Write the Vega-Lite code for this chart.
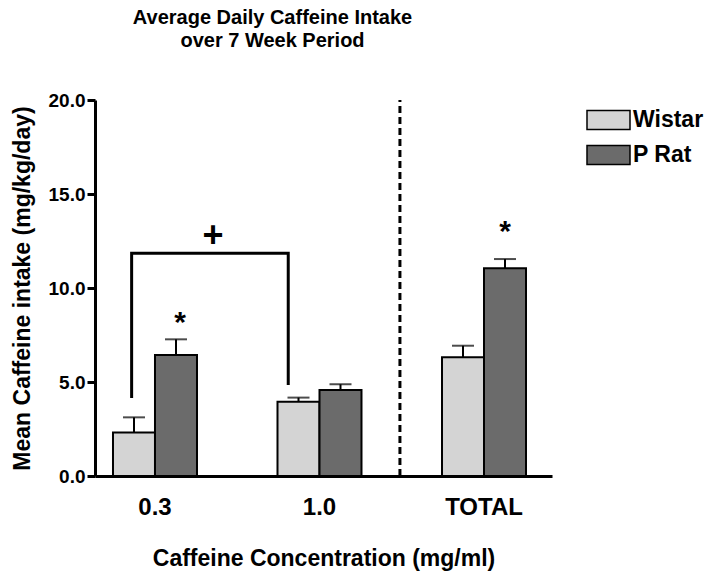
{
  "$schema": "https://vega.github.io/schema/vega-lite/v6.json",
  "autosize": "none",
  "width": 457,
  "height": 376,
  "padding": {"left": 95, "top": 100, "right": 162, "bottom": 106},
  "background": "white",
  "config": {
    "view": {"stroke": null},
    "font": "Liberation Sans",
    "axis": {"grid": false, "domainColor": "black", "tickColor": "black", "labelColor": "black", "titleColor": "black", "labelFont": "Liberation Sans", "titleFont": "Liberation Sans", "labelFontWeight": "bold", "titleFontWeight": "bold"}
  },
  "title": {
    "text": ["Average Daily Caffeine Intake", "over 7 Week Period"],
    "font": "Liberation Sans",
    "fontSize": 20,
    "fontWeight": "bold",
    "color": "black",
    "anchor": "middle",
    "frame": "group",
    "dx": -51,
    "offset": 40,
    "lineHeight": 23
  },
  "datasets": {
    "bars": [
      {"conc": "0.3", "group": "Wistar", "mean": 2.32, "upper": 3.12},
      {"conc": "0.3", "group": "P Rat", "mean": 6.44, "upper": 7.27},
      {"conc": "1.0", "group": "Wistar", "mean": 3.95, "upper": 4.17},
      {"conc": "1.0", "group": "P Rat", "mean": 4.57, "upper": 4.88},
      {"conc": "TOTAL", "group": "Wistar", "mean": 6.31, "upper": 6.93},
      {"conc": "TOTAL", "group": "P Rat", "mean": 11.05, "upper": 11.54}
    ],
    "bracket": [
      {"i": 1, "bx": 0.858, "by": 4.15},
      {"i": 2, "bx": 0.858, "by": 11.85},
      {"i": 3, "bx": 1.81, "by": 11.85},
      {"i": 4, "bx": 1.81, "by": 4.84}
    ],
    "marks": [
      {"mx": 1.152, "my": 7.68, "sym": "*"},
      {"mx": 3.128, "my": 12.48, "sym": "*"}
    ],
    "plus": [
      {"mx": 1.353, "my": 12.18, "sym": "+"}
    ],
    "divider": [
      {"dx": 2.489, "y0": 0, "y1": 20}
    ]
  },
  "resolve": {"scale": {"x": "independent"}},
  "layer": [
    {
      "data": {"name": "bars"},
      "layer": [
        {
          "mark": {"type": "bar", "stroke": "black", "strokeWidth": 2},
          "encoding": {
            "x": {
              "field": "conc", "type": "nominal",
              "scale": {"paddingInner": 0.4894, "paddingOuter": 0.1337, "align": 0.409},
              "axis": {"title": "Caffeine Concentration (mg/ml)", "labelAngle": 0, "ticks": false, "domainWidth": 3, "labelPadding": 19, "labelFontSize": 24, "titleFontSize": 23, "titlePadding": 28}
            },
            "xOffset": {"field": "group", "type": "nominal", "sort": ["Wistar", "P Rat"], "scale": {"paddingInner": 0, "paddingOuter": 0}},
            "y": {
              "field": "mean", "type": "quantitative",
              "scale": {"domain": [0, 20], "nice": false},
              "axis": {"title": "Mean Caffeine intake (mg/kg/day)", "values": [0, 5, 10, 15, 20], "format": ".1f", "tickSize": 8, "tickWidth": 3, "domainWidth": 3, "labelPadding": 2, "labelFontSize": 19, "titleFontSize": 23, "titlePadding": 14}
            },
            "color": {
              "field": "group", "type": "nominal",
              "sort": ["Wistar", "P Rat"],
              "scale": {"domain": ["Wistar", "P Rat"], "range": ["#d4d4d4", "#6b6b6b"]},
              "legend": {
                "title": null, "orient": "none", "legendX": 499.5, "legendY": 6, "padding": 0,
                "symbolType": "M-1.654,-0.73H1.654V0.73H-1.654Z", "symbolSize": 676,
                "symbolStrokeColor": "black", "symbolStrokeWidth": 1.5, "symbolOpacity": 1,
                "labelFont": "Liberation Sans", "labelFontWeight": "bold", "labelFontSize": 23, "labelColor": "black",
                "labelOffset": 10.5, "rowPadding": 8
              }
            }
          }
        },
        {
          "mark": {"type": "rule", "color": "black", "strokeWidth": 2},
          "encoding": {
            "x": {"field": "conc", "type": "nominal"},
            "xOffset": {"field": "group", "type": "nominal", "sort": ["Wistar", "P Rat"]},
            "y": {"field": "mean", "type": "quantitative"},
            "y2": {"field": "upper"}
          }
        },
        {
          "mark": {"type": "tick", "color": "black", "thickness": 2, "size": 22, "orient": "horizontal"},
          "encoding": {
            "x": {"field": "conc", "type": "nominal"},
            "xOffset": {"field": "group", "type": "nominal", "sort": ["Wistar", "P Rat"]},
            "y": {"field": "upper", "type": "quantitative"}
          }
        }
      ]
    },
    {
      "layer": [
        {
          "data": {"name": "bracket"},
          "mark": {"type": "line", "color": "black", "strokeWidth": 3, "strokeJoin": "miter", "strokeCap": "butt"},
          "encoding": {
            "x": {"field": "bx", "type": "quantitative", "scale": {"domain": [0.6353, 3.4134], "nice": false, "zero": false}, "axis": null},
            "y": {"field": "by", "type": "quantitative"},
            "order": {"field": "i"}
          }
        },
        {
          "data": {"name": "divider"},
          "mark": {"type": "rule", "color": "black", "strokeWidth": 3, "strokeDash": [7, 4]},
          "encoding": {
            "x": {"field": "dx", "type": "quantitative"},
            "y": {"field": "y0", "type": "quantitative"},
            "y2": {"field": "y1"}
          }
        },
        {
          "data": {"name": "marks"},
          "mark": {"type": "text", "font": "Liberation Sans", "fontWeight": "bold", "fontSize": 30, "baseline": "alphabetic", "align": "center", "color": "black"},
          "encoding": {
            "x": {"field": "mx", "type": "quantitative"},
            "y": {"field": "my", "type": "quantitative"},
            "text": {"field": "sym"}
          }
        },
        {
          "data": {"name": "plus"},
          "mark": {"type": "text", "font": "Liberation Sans", "fontWeight": "bold", "fontSize": 36, "baseline": "alphabetic", "align": "center", "color": "black"},
          "encoding": {
            "x": {"field": "mx", "type": "quantitative"},
            "y": {"field": "my", "type": "quantitative"},
            "text": {"field": "sym"}
          }
        }
      ]
    }
  ]
}
